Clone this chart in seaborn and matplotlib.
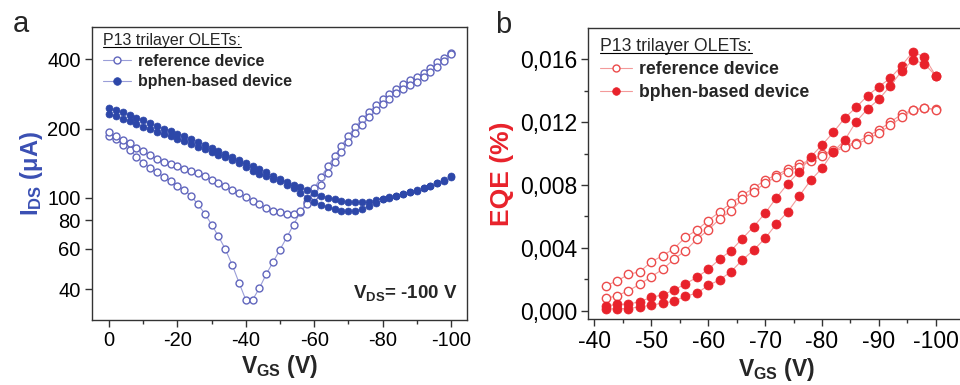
import matplotlib
matplotlib.use("Agg")
from matplotlib import pyplot as plt
from matplotlib.lines import Line2D
from matplotlib.ticker import FixedLocator, MultipleLocator, NullLocator, FuncFormatter
import pandas as pd
import seaborn as sns

# Panel a: I_DS vs V_GS (two sweeps per device), V_DS = -100 V
vgs_a = list(range(0, -101, -2))
ref_sweep1 = [186, 180, 169, 162, 151, 142, 135, 129, 123, 118,
              113, 108, 102, 93.5, 85.4, 76.5, 68, 59.8, 51.2, 42.8,
              36, 36, 40.5, 46.6, 52.6, 59.5, 67.3, 76.5, 86.9, 96,
              110, 123, 137, 152, 168, 186, 203, 220, 236, 252,
              268, 283, 298, 312, 325, 335, 350, 368, 388, 405, 428]
ref_sweep2 = [193, 186, 178, 173, 165, 160, 153, 148, 143, 140,
              137, 134, 131, 128, 124, 120, 116, 112, 108, 104.4,
              100.6, 97.3, 93.5, 90.4, 88, 86.5, 85.1, 85.1, 87.4, 93.5,
              102, 114, 128, 143, 158, 175, 192, 208, 224, 240,
              255, 270, 285, 298, 310, 318, 335, 352, 372, 395, 420]
bphen_sweep1 = [245, 240, 235, 229, 223, 217, 211, 205, 200, 195,
                190, 185, 180, 175, 170, 165, 160, 155, 150, 146,
                141, 137, 133, 129, 125, 121, 117, 114, 111, 108,
                105, 102, 100, 98.5, 97, 96, 95.5, 95.5, 96, 97.5,
                99, 100.5, 102, 104, 106, 108, 110.5, 113, 116, 119, 124]
bphen_sweep2 = [231, 226, 221, 215, 210, 204, 199, 194, 189, 185,
                181, 176, 172, 167, 163, 158, 154, 150, 145.5, 141,
                136, 131, 127, 124, 121, 118, 114, 110, 105, 100,
                96, 93, 91, 89, 88, 87.2, 87.8, 89, 92, 95,
                98.5, 100, 101.5, 103.5, 105.5, 107.5, 110, 112.5, 115.5, 118.5, 123]

# Panel b: EQE vs V_GS
vgs_b = list(range(-42, -101, -2))
eqe_ref1 = [0.00159, 0.00189, 0.00231, 0.00248, 0.0031, 0.0035, 0.00395, 0.00467, 0.00513, 0.00573,
            0.00628, 0.00683, 0.00736, 0.00779, 0.00832, 0.00863, 0.009, 0.00931, 0.00959, 0.00995,
            0.0102, 0.0105, 0.0107, 0.0111, 0.0115, 0.0120, 0.0125, 0.01277, 0.01288, 0.01281]
eqe_ref2 = [0.00078, 0.00095, 0.00127, 0.00168, 0.00216, 0.00263, 0.00327, 0.00382, 0.00454, 0.00513,
            0.00583, 0.00634, 0.0071, 0.00757, 0.0081, 0.00853, 0.00885, 0.00916, 0.00952, 0.00984,
            0.0101, 0.0104, 0.0106, 0.0109, 0.0113, 0.0118, 0.0123, 0.0128, 0.0129, 0.0128]
eqe_bphen1 = [0.0003, 0.0004, 0.00042, 0.00057, 0.00085, 0.001, 0.00132, 0.0017, 0.00212, 0.00263,
              0.00327, 0.00382, 0.00458, 0.00535, 0.0062, 0.00719, 0.00808, 0.00885, 0.00978, 0.01054,
              0.01135, 0.01226, 0.01294, 0.01368, 0.01426, 0.01479, 0.0156, 0.01648, 0.01612, 0.01494]
eqe_bphen2 = [0.0001, 0.00013, 0.00013, 0.00025, 0.00034, 0.00049, 0.00059, 0.00093, 0.0011, 0.00161,
              0.00195, 0.00248, 0.00322, 0.00386, 0.0046, 0.00552, 0.0063, 0.0073, 0.00829, 0.00906,
              0.01012, 0.01086, 0.01203, 0.01283, 0.01345, 0.0143, 0.01525, 0.01595, 0.0157, 0.01494]

legend_title = "P13 trilayer OLETs:"
legend_labels = ["reference device", "bphen-based device"]


def long_form(v, sweeps, name):
    rows = []
    for k, s in enumerate(sweeps):
        rows.append(pd.DataFrame({"V": v, "y": s, "sweep": k, "device": name}))
    return pd.concat(rows, ignore_index=True)


df_a_ref = long_form(vgs_a, [ref_sweep1, ref_sweep2], "ref")
df_a_bph = long_form(vgs_a, [bphen_sweep1, bphen_sweep2], "bphen")
df_b_ref = long_form(vgs_b, [eqe_ref1, eqe_ref2], "ref")
df_b_bph = long_form(vgs_b, [eqe_bphen1, eqe_bphen2], "bphen")

sns.set_style("ticks")
plt.rcParams["font.family"] = ["Liberation Sans", "DejaVu Sans"]
plt.rcParams["mathtext.default"] = "regular"
plt.rcParams["axes.unicode_minus"] = False
plt.rcParams["axes.linewidth"] = 1.0
plt.rcParams["axes.edgecolor"] = "#333333"
plt.rcParams["xtick.color"] = "#333333"
plt.rcParams["ytick.color"] = "#333333"
plt.rcParams["xtick.labelcolor"] = "black"
plt.rcParams["ytick.labelcolor"] = "black"

blue_open = "#6166bd"
blue_line = "#9a9ed8"
blue_fill = "#2d47a9"
blue_label = "#3a4fb3"
red_open = "#ec4b4b"
red_line = "#f39a9a"
red_fill = "#e8222b"
red_label = "#e8222b"

fig = plt.figure(figsize=(9.6, 3.85), dpi=100)
ax1 = fig.add_axes([0.0958, 0.1688, 0.3906, 0.761])
ax2 = fig.add_axes([0.6128, 0.1706, 0.3917, 0.756])

# ---- panel a
sns.lineplot(data=df_a_ref, x="V", y="y", units="sweep", estimator=None, sort=False,
             color=blue_line, lw=0.8, marker="o", ms=5, mfc="white", mec=blue_open, mew=1.0, ax=ax1)
sns.lineplot(data=df_a_bph, x="V", y="y", units="sweep", estimator=None, sort=False,
             color=blue_line, lw=0.8, marker="o", ms=5, mfc=blue_fill, mec=blue_fill, mew=0.5, ax=ax1)
ax1.set_yscale("log")
ax1.set_xlim(5, -104.7)
ax1.set_ylim(29.4, 553)
ax1.yaxis.set_major_locator(FixedLocator([40, 60, 80, 100, 200, 400]))
ax1.yaxis.set_minor_locator(NullLocator())
ax1.yaxis.set_major_formatter(FuncFormatter(lambda v, p: f"{v:g}"))
ax1.xaxis.set_major_locator(MultipleLocator(20))
ax1.xaxis.set_minor_locator(MultipleLocator(10))
ax1.tick_params(axis="both", which="major", labelsize=14.5, length=5, width=1.0, pad=3)
ax1.tick_params(axis="x", which="minor", length=3, width=1.0)
ax1.set_xlabel("V$_{GS}$ (V)", fontsize=16.5, fontweight="bold", labelpad=2)
ax1.set_ylabel("I$_{DS}$ ($\\mu$A)", fontsize=17, fontweight="bold", color=blue_label, labelpad=2)
ax1.text(0.976, 0.075, "V$_{DS}$= -100 V", transform=ax1.transAxes, ha="right", va="baseline",
         fontsize=13.5, fontweight="bold")

# ---- panel b
sns.lineplot(data=df_b_ref, x="V", y="y", units="sweep", estimator=None, sort=False,
             color=red_line, lw=0.8, marker="o", ms=6, mfc="white", mec=red_open, mew=1.0, ax=ax2)
sns.lineplot(data=df_b_bph, x="V", y="y", units="sweep", estimator=None, sort=False,
             color=red_line, lw=0.8, marker="o", ms=6.5, mfc=red_fill, mec=red_fill, mew=0.5, ax=ax2)
ax2.set_xlim(-38.95, -105)
ax2.set_ylim(-0.00055, 0.01797)
ax2.xaxis.set_major_locator(MultipleLocator(10))
ax2.xaxis.set_minor_locator(MultipleLocator(5))
ax2.yaxis.set_major_locator(MultipleLocator(0.004))
ax2.yaxis.set_minor_locator(MultipleLocator(0.002))
ax2.yaxis.set_major_formatter(FuncFormatter(lambda v, p: f"{abs(v):.3f}".replace(".", ",")))
ax2.tick_params(axis="both", which="major", labelsize=16.5, length=5, width=1.0, pad=3)
ax2.tick_params(axis="both", which="minor", length=3, width=1.0)
ax2.set_xlabel("V$_{GS}$ (V)", fontsize=16.5, fontweight="bold", labelpad=2)
ax2.set_ylabel("EQE (%)", fontsize=19, fontweight="bold", color=red_label, labelpad=4)

# legends
for ax, fs, anchor, c_line, c_open, c_fill in [
        (ax1, 11.5, (0.02, 0.99), blue_line, blue_open, blue_fill),
        (ax2, 12.7, (0.022, 0.98), red_line, red_open, red_fill)]:
    handles = [Line2D([], [], color=c_line, lw=0.8, marker="o", ms=5, mfc="white", mec=c_open, mew=1.0),
               Line2D([], [], color=c_line, lw=0.8, marker="o", ms=5.5, mfc=c_fill, mec=c_fill, mew=0.5)]
    leg = ax.legend(handles, legend_labels, title=legend_title, loc="upper left",
                    bbox_to_anchor=anchor, frameon=False, borderaxespad=0, borderpad=0.2,
                    handlelength=1.8, handletextpad=0.4, labelspacing=0.35,
                    prop={"weight": "bold", "size": fs}, title_fontsize=fs, alignment="left")
    leg.get_title().set_fontweight("normal")

for ax in (ax1, ax2):
    for s in ax.spines.values():
        s.set_visible(True)

fig.text(13 / 960, 1 - 32 / 385, "a", fontsize=21, va="baseline")
fig.text(495 / 960, 1 - 33 / 385, "b", fontsize=21, va="baseline")

# underline legend titles
fig.canvas.draw()
renderer = fig.canvas.get_renderer()
for ax in (ax1, ax2):
    t = ax.get_legend().get_title()
    bb = t.get_window_extent(renderer).transformed(fig.transFigure.inverted())
    y = bb.y0 + 0.004
    fig.add_artist(Line2D([bb.x0, bb.x1], [y, y], transform=fig.transFigure, color="black", lw=0.8))

fig.savefig("out.png", dpi=100)
